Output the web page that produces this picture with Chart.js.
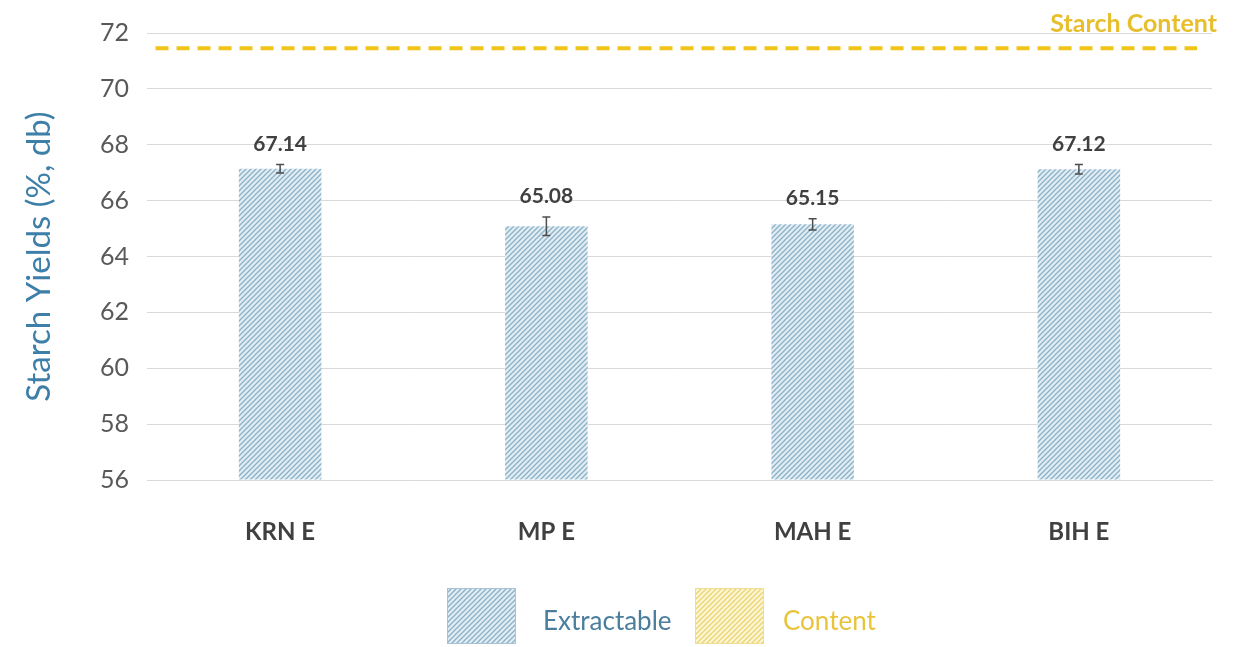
<!DOCTYPE html>
<html>
<head>
<meta charset="utf-8">
<script src="https://cdn.jsdelivr.net/npm/chart.js@4.4.1/dist/chart.umd.min.js"></script>
<style>
  html, body { margin: 0; padding: 0; background: #fff; }
  #wrap { width: 1240px; height: 647px; }
</style>
</head>
<body>
<div id="wrap"><canvas id="chart"></canvas></div>
<script>
// Starch yields per variety, with starch content reference line

const categories = ["KRN E", "MP E", "MAH E", "BIH E"];
const extractable = [67.14, 65.08, 65.15, 67.12];
const errors = [0.15, 0.33, 0.2, 0.17];
const starchContent = 71.45;
const legendLabels = ["Extractable", "Content"];

const FONT = "Lato, 'Open Sans', sans-serif";

function makeHatch(bg, line) {
  const c = document.createElement("canvas");
  c.width = 5;
  c.height = 5;
  const g = c.getContext("2d");
  g.fillStyle = bg;
  g.fillRect(0, 0, 5, 5);
  g.strokeStyle = line;
  g.lineWidth = 1.3;
  g.beginPath();
  g.moveTo(0, 5);
  g.lineTo(5, 0);
  g.moveTo(-2.5, 2.5);
  g.lineTo(2.5, -2.5);
  g.moveTo(2.5, 7.5);
  g.lineTo(7.5, 2.5);
  g.stroke();
  return g.createPattern(c, "repeat");
}

const ctx = document.getElementById("chart").getContext("2d");
const bluePattern = makeHatch("#e2edf3", "#8ab1c8");
const yellowPattern = makeHatch("#fcf6d6", "#ecd46e");

// error bars + value labels above each bar
const barExtras = {
  id: "barExtras",
  afterDatasetsDraw(chart) {
    const y = chart.scales.y;
    const meta = chart.getDatasetMeta(0);
    const c = chart.ctx;
    c.save();
    meta.data.forEach((bar, i) => {
      const top = y.getPixelForValue(extractable[i] + errors[i]);
      const bot = y.getPixelForValue(extractable[i] - errors[i]);
      c.strokeStyle = "#4d4d4d";
      c.lineWidth = 1.5;
      c.beginPath();
      c.moveTo(bar.x, top);
      c.lineTo(bar.x, bot);
      c.moveTo(bar.x - 4, top);
      c.lineTo(bar.x + 4, top);
      c.moveTo(bar.x - 4, bot);
      c.lineTo(bar.x + 4, bot);
      c.stroke();
      c.fillStyle = "#404040";
      c.font = "bold 21px " + FONT;
      c.textAlign = "center";
      c.textBaseline = "bottom";
      c.fillText(extractable[i].toFixed(2), bar.x, top - 10);
    });
    // starch content label
    c.fillStyle = "#e8be2c";
    c.font = "bold 25px " + FONT;
    c.textAlign = "right";
    c.textBaseline = "alphabetic";
    c.fillText("Starch Content", 1217, 32);
    c.restore();
  },
  afterDraw(chart) {
    const c = chart.ctx;
    c.save();
    c.font = "26px " + FONT;
    c.textBaseline = "middle";
    c.textAlign = "left";
    const items = [
      { fill: bluePattern, stroke: "#a9c3d3", color: "#4a7e9c", x: 447, tx: 543 },
      { fill: yellowPattern, stroke: "#efdd96", color: "#e8c43c", x: 695, tx: 783 },
    ];
    items.forEach((it, i) => {
      c.fillStyle = it.fill;
      c.fillRect(it.x, 588, 69, 56);
      c.strokeStyle = it.stroke;
      c.lineWidth = 1;
      c.strokeRect(it.x + 0.5, 588.5, 68, 55);
      c.fillStyle = it.color;
      c.fillText(legendLabels[i], it.tx, 622);
    });
    c.restore();
  },
};

new Chart(ctx, {
  type: "bar",
  data: {
    labels: categories,
    datasets: [
      {
        label: "Extractable",
        data: extractable,
        backgroundColor: bluePattern,
        borderWidth: 0,
        grouped: false,
        categoryPercentage: 1,
        barPercentage: 0.31,
        base: 56,
      },
      {
        type: "line",
        label: "Content",
        xAxisID: "x2",
        data: [
          { x: 0.008, y: starchContent },
          { x: 0.986, y: starchContent },
        ],
        borderColor: "#f0c419",
        borderWidth: 4,
        borderDash: [13, 8],
        pointRadius: 0,
        fill: false,
      },
    ],
  },
  options: {
    responsive: true,
    maintainAspectRatio: false,
    animation: false,
    layout: {
      padding: { top: 32, right: 28, bottom: 90, left: 0 },
    },
    plugins: {
      legend: { display: false },
      tooltip: { enabled: false },
    },
    scales: {
      x: {
        grid: { display: false },
        border: { display: true, color: "#d9d9d9" },
        ticks: {
          color: "#404040",
          font: { family: FONT, size: 24, weight: "bold" },
          padding: 30,
        },
        afterFit: (scale) => {
          scale.height = 77;
        },
      },
      x2: {
        type: "linear",
        display: false,
        offset: false,
        min: 0,
        max: 1,
      },
      y: {
        min: 56,
        max: 72,
        ticks: {
          stepSize: 2,
          color: "#595959",
          font: { family: FONT, size: 25 },
          padding: 18,
        },
        grid: { color: "#d9d9d9", drawTicks: false },
        border: { display: false },
        title: {
          display: true,
          text: "Starch Yields (%, db)",
          color: "#3d7fa8",
          font: { family: FONT, size: 33 },
          padding: { top: 20, bottom: 8 },
        },
        afterFit: (scale) => {
          scale.width = 147;
        },
      },
    },
  },
  plugins: [barExtras],
});
</script>
</body>
</html>
